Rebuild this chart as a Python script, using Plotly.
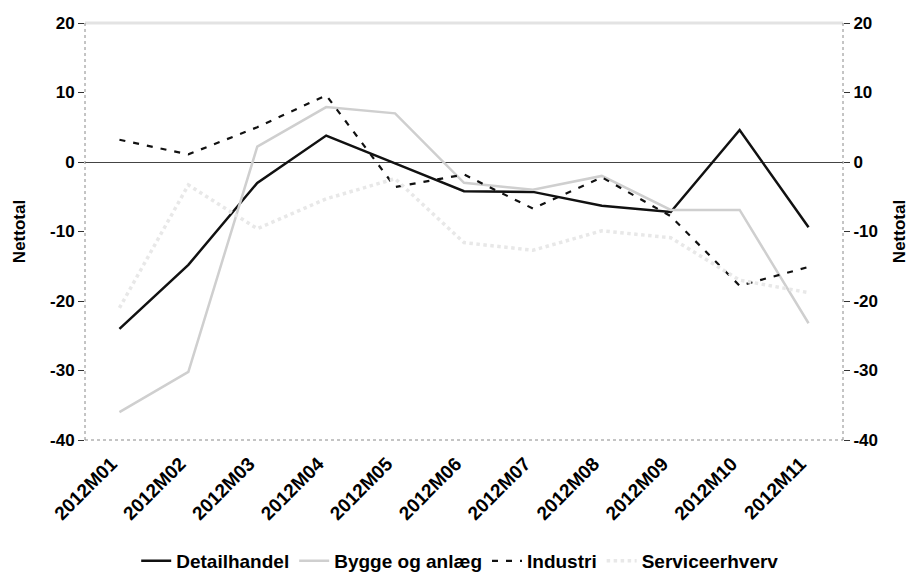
import plotly.graph_objects as go

months = ["2012M01", "2012M02", "2012M03", "2012M04", "2012M05", "2012M06",
          "2012M07", "2012M08", "2012M09", "2012M10", "2012M11"]
detailhandel = [-24, -14.8, -3, 3.8, -0.2, -4.2, -4.3, -6.3, -7.2, 4.6, -9.4]
bygge = [-36, -30.2, 2.2, 7.9, 7.0, -3.0, -4.0, -2.0, -6.9, -6.9, -23.2]
industri = [3.2, 1.1, 5.0, 9.6, -3.6, -1.8, -6.7, -2.2, -7.8, -17.8, -15.1]
service = [-21, -3.3, -9.6, -5.3, -2.4, -11.6, -12.7, -9.9, -10.9, -17.0, -18.8]
yticks = [20, 10, 0, -10, -20, -30, -40]
yticklabels = ["20", "10", "0", "-10", "-20", "-30", "-40"]

FONT = "Liberation Sans"

fig = go.Figure()
fig.add_trace(go.Scatter(x=months, y=detailhandel, name="Detailhandel", mode="lines",
                         line=dict(color="#111111", width=2.5)))
fig.add_trace(go.Scatter(x=months, y=bygge, name="Bygge og anlæg", mode="lines",
                         line=dict(color="#cfcfcf", width=2.5)))
fig.add_trace(go.Scatter(x=months, y=industri, name="Industri", mode="lines",
                         line=dict(color="#111111", width=2.2, dash="6px,8px")))
fig.add_trace(go.Scatter(x=months, y=service, name="Serviceerhverv", mode="lines",
                         line=dict(color="#e8e8e8", width=3.5, dash="dot")))
fig.add_trace(go.Scatter(x=months, y=service, yaxis="y2", mode="lines",
                         line=dict(color="rgba(0,0,0,0)", width=0), showlegend=False,
                         hoverinfo="skip"))

axis_font = dict(family=FONT, size=17, color="#000000", weight="bold")
xaxis_font = dict(family=FONT, size=19, color="#000000", weight="bold")
title_font = dict(family=FONT, size=17, color="#000000", weight="bold")

frame_dot = dict(color="#8a8a8a", width=1, dash="dot")

# page body has an 8px default margin, so the figure is 8px smaller than the window
fig.update_layout(
    width=906, height=569,
    margin=dict(l=77, r=71, t=15, b=137, autoexpand=False),
    paper_bgcolor="white", plot_bgcolor="white",
    font=dict(family=FONT, color="#000000"),
    showlegend=True,
    legend=dict(orientation="h", x=0.495, xanchor="center", y=-0.29, yanchor="middle",
                font=dict(family=FONT, size=19, color="#000000", weight="bold"),
                traceorder="normal"),
    xaxis=dict(type="category", categoryorder="array", categoryarray=months,
               range=[-0.5, 10.5], tickangle=-45, tickfont=xaxis_font, automargin=False,
               ticklabelshift=-8, ticklabelstandoff=8,
               showgrid=False, zeroline=False, showline=False, ticks=""),
    yaxis=dict(range=[-40, 20], tickvals=yticks, ticktext=yticklabels, tickfont=axis_font,
               automargin=False,
               showgrid=False, zeroline=True, zerolinecolor="#444444", zerolinewidth=1,
               showline=False, ticks="outside",
               ticklen=6, tickcolor="#333333",
               title=dict(text="Nettotal", font=title_font, standoff=20)),
    yaxis2=dict(range=[-40, 20], tickvals=yticks, ticktext=yticklabels, tickfont=axis_font,
                overlaying="y", automargin=False,
                side="right", showgrid=False, zeroline=False, showline=False,
                ticks="outside", ticklen=6, tickcolor="#333333",
                title=dict(text="Nettotal", font=title_font, standoff=16)),
    shapes=[
        dict(type="line", xref="paper", yref="paper", x0=0, x1=1, y0=1, y1=1,
             line=dict(color="#e3e3e3", width=3)),
        dict(type="line", xref="paper", yref="paper", x0=0, x1=0, y0=0, y1=1, line=frame_dot),
        dict(type="line", xref="paper", yref="paper", x0=1, x1=1, y0=0, y1=1, line=frame_dot),
        dict(type="line", xref="paper", yref="paper", x0=0, x1=1, y0=0, y1=0, line=frame_dot),
    ],
)

fig.write_html("out.html")
